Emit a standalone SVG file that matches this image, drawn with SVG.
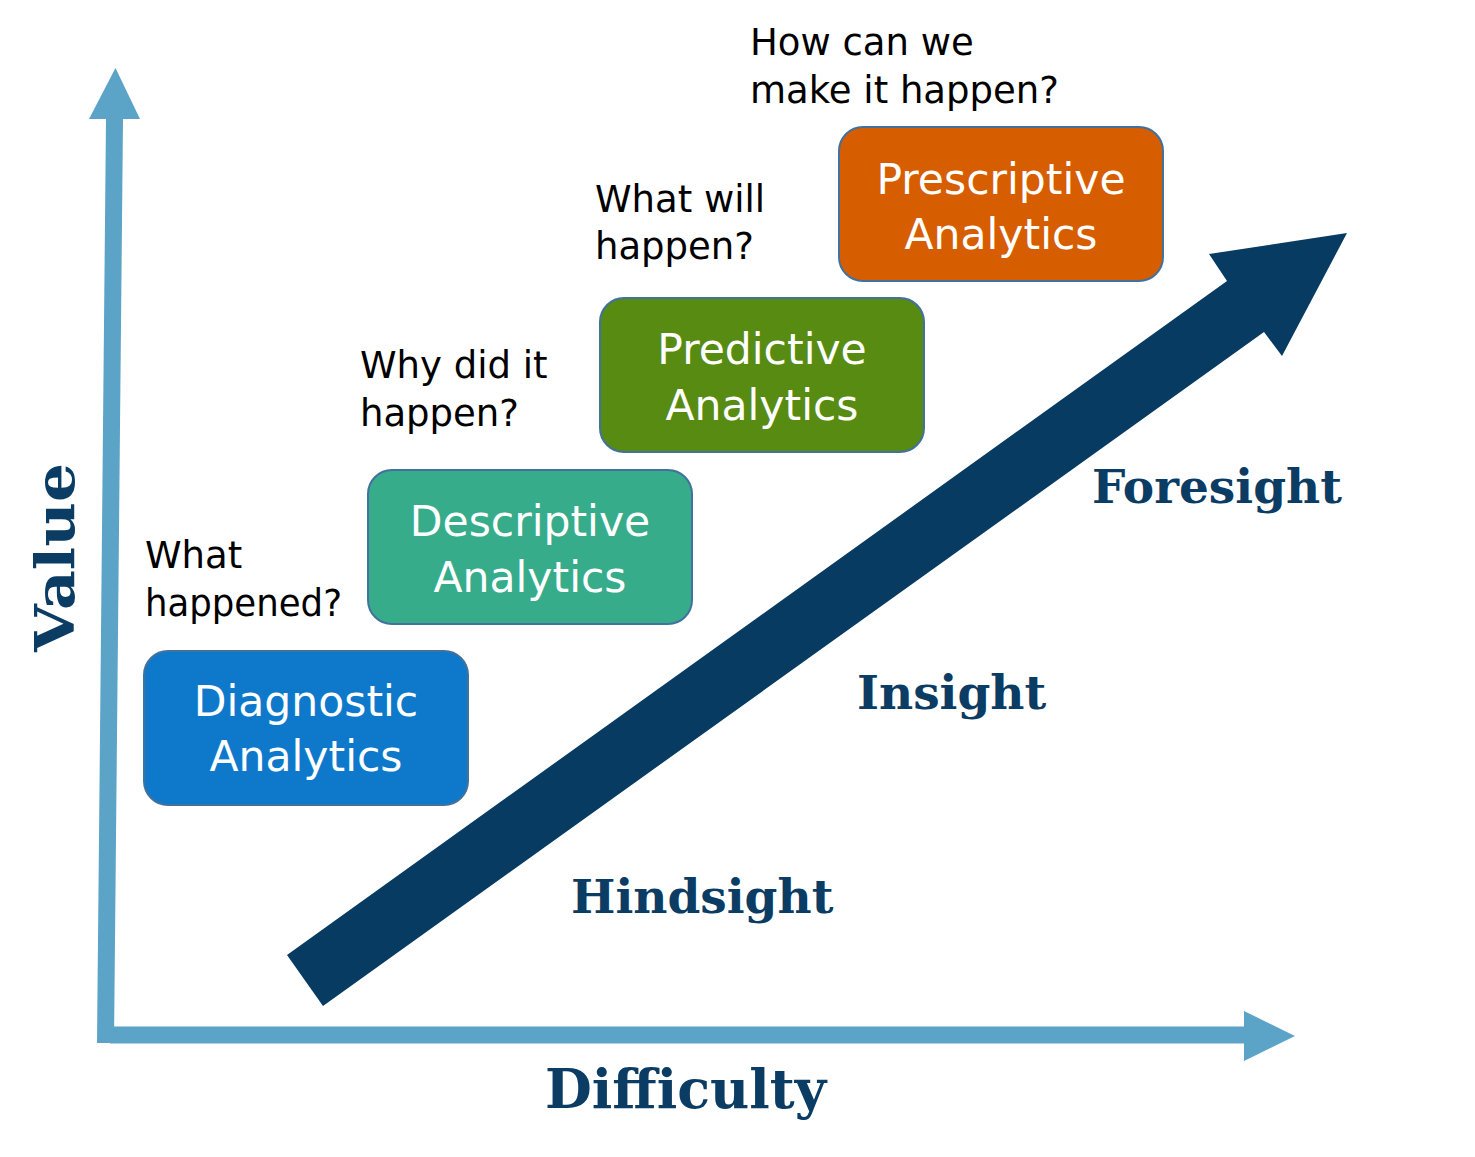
<svg xmlns="http://www.w3.org/2000/svg" width="1475" height="1157" viewBox="0 0 1475 1157">
<style>
.axis{fill:#5BA3C7}
.box{stroke:#41719C;stroke-width:2}
.bt{font-family:"DejaVu Sans","Liberation Sans",sans-serif;font-size:42.5px;fill:#ffffff;text-anchor:middle}
.q{font-family:"DejaVu Sans","Liberation Sans",sans-serif;font-size:37px;fill:#000000}
.lab{font-family:"DejaVu Serif","Liberation Serif",serif;font-weight:bold;font-size:47px;fill:#0B3C64}
.ax{font-family:"DejaVu Serif","Liberation Serif",serif;font-weight:bold;font-size:54px;fill:#0B3C64}
</style>
<rect width="1475" height="1157" fill="#ffffff"/>
<g id="connectors">
  <g id="value-axis">
    <polygon class="axis" points="106,119 123,119 114,1043 97,1043"/>
    <polygon class="axis" points="89,119 140,119 115.5,68"/>
  </g>
  <g id="difficulty-axis">
    <rect class="axis" x="110" y="1026.5" width="1135" height="17"/>
    <polygon class="axis" points="1244,1011 1295,1036 1244,1061"/>
  </g>
  <g id="growth-arrow">
    <polygon fill="#083B62" points="287,955 1227,281 1209,254 1347,233 1282,356 1264,332 323,1006"/>
  </g>
</g>
<g id="diagnostic">
  <rect class="box" x="144" y="651" width="324" height="154" rx="24" fill="#0E79CB"/>
  <text class="bt" x="306" y="716">Diagnostic</text>
  <text class="bt" x="306" y="771">Analytics</text>
</g>
<g id="descriptive">
  <rect class="box" x="368" y="470" width="324" height="154" rx="24" fill="#36AC8B"/>
  <text class="bt" x="530" y="536">Descriptive</text>
  <text class="bt" x="530" y="592">Analytics</text>
</g>
<g id="predictive">
  <rect class="box" x="600" y="298" width="324" height="154" rx="24" fill="#578B12"/>
  <text class="bt" x="762" y="364">Predictive</text>
  <text class="bt" x="762" y="420">Analytics</text>
</g>
<g id="prescriptive">
  <rect class="box" x="839" y="127" width="324" height="154" rx="24" fill="#D65D00"/>
  <text class="bt" x="1001" y="194">Prescriptive</text>
  <text class="bt" x="1001" y="249">Analytics</text>
</g>
<g id="questions">
  <text class="q" x="750" y="55">How can we</text>
  <text class="q" x="750" y="103">make it happen?</text>
  <text class="q" x="595" y="212">What will</text>
  <text class="q" x="595" y="259">happen?</text>
  <text class="q" x="360" y="378">Why did it</text>
  <text class="q" x="360" y="426">happen?</text>
  <text class="q" x="145" y="568">What</text>
  <text class="q" x="145" y="616" textLength="197" lengthAdjust="spacingAndGlyphs">happened?</text>
</g>
<g id="stages">
  <text class="lab" x="1092" y="503">Foresight</text>
  <text class="lab" x="857" y="709">Insight</text>
  <text class="lab" x="571" y="913">Hindsight</text>
</g>
<g id="axis-labels">
  <text class="ax" x="545" y="1108">Difficulty</text>
  <text class="ax" transform="translate(74,652) rotate(-90)" textLength="189" lengthAdjust="spacingAndGlyphs">Value</text>
</g>
</svg>
